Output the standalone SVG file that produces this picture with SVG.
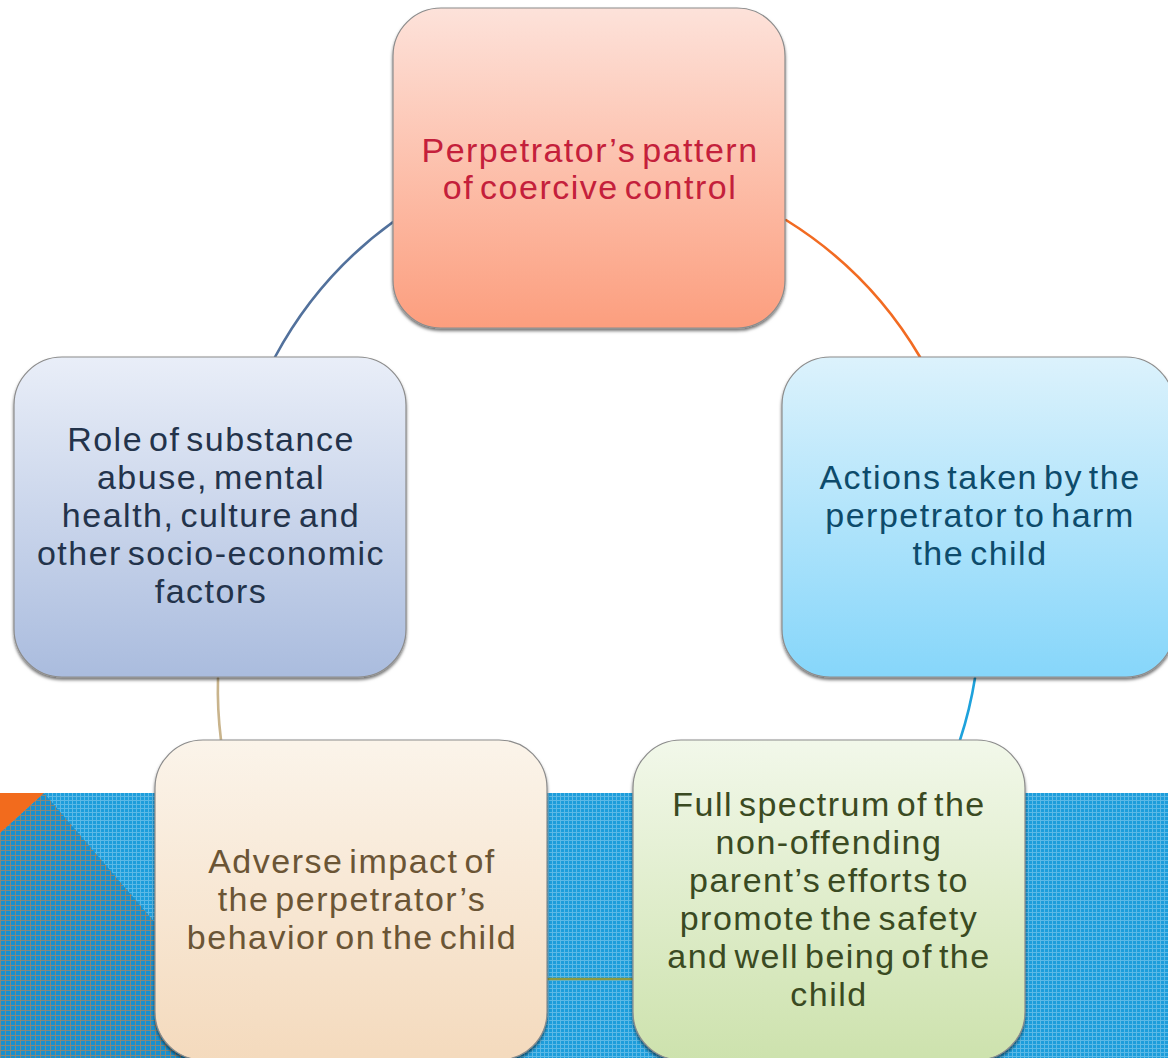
<svg xmlns="http://www.w3.org/2000/svg" width="1168" height="1058" viewBox="0 0 1168 1058">
<style>
.node-box{stroke:#8c8c8c;stroke-width:1.2;filter:url(#shadow)}
.lbl{font-family:"Liberation Sans",Arial,sans-serif;font-size:34px;text-anchor:middle;letter-spacing:1.5px;word-spacing:-5px}
.conn{fill:none;stroke-width:2.6;stroke-linecap:round}
</style>
<defs>
<filter id="shadow" x="-5%" y="-5%" width="110%" height="115%">
<feDropShadow dx="0" dy="2.5" stdDeviation="1.5" flood-color="#000" flood-opacity="0.55"/>
</filter>
<pattern id="lightGrid" width="4" height="4" patternUnits="userSpaceOnUse">
<rect width="4" height="4" fill="#1d9ddb"/>
<rect width="4" height="1" fill="#5cb9e6"/>
<rect width="1" height="4" fill="#5cb9e6"/>
</pattern>
<pattern id="darkGrid" width="5" height="5" patternUnits="userSpaceOnUse">
<rect width="5" height="5" fill="#1890cf"/>
<rect width="5" height="1" fill="#86877a"/>
<rect width="1" height="5" fill="#86877a"/>
</pattern>
<linearGradient id="gTop" x1="0" y1="0" x2="0" y2="1">
<stop offset="0" stop-color="#fde2da"/>
<stop offset="1" stop-color="#fc9e7e"/>
</linearGradient>
<linearGradient id="gRight" x1="0" y1="0" x2="0" y2="1">
<stop offset="0" stop-color="#dcf2fc"/>
<stop offset="1" stop-color="#86d6fa"/>
</linearGradient>
<linearGradient id="gLeft" x1="0" y1="0" x2="0" y2="1">
<stop offset="0" stop-color="#e9eef8"/>
<stop offset="1" stop-color="#aabcde"/>
</linearGradient>
<linearGradient id="gBL" x1="0" y1="0" x2="0" y2="1">
<stop offset="0" stop-color="#fbf4ea"/>
<stop offset="1" stop-color="#f4dabd"/>
</linearGradient>
<linearGradient id="gBR" x1="0" y1="0" x2="0" y2="1">
<stop offset="0" stop-color="#f2f8ea"/>
<stop offset="1" stop-color="#cde2ad"/>
</linearGradient>
</defs>

<g id="background">
<rect x="0" y="0" width="1168" height="1058" fill="#ffffff"/>
<rect x="0" y="793" width="1168" height="265" fill="url(#lightGrid)"/>
<polygon points="0,833 44,793 271,1058 0,1058" fill="url(#darkGrid)"/>
<polygon points="0,793 44,793 0,833" fill="#f26b1d"/>
</g>

<g id="connectors">
<path class="conn" d="M 393 222 A 400 400 0 0 0 275 357" stroke="#52719c"/>
<path class="conn" d="M 786 220 A 400 400 0 0 1 920 357" stroke="#f26b22"/>
<path class="conn" d="M 975 678 A 400 400 0 0 1 960 740" stroke="#1ea2dc"/>
<path class="conn" d="M 218 678 A 400 400 0 0 0 221 740" stroke="#c9b48c"/>
<path class="conn" d="M 548 979 L 633 979" stroke="#8c9a42"/>
</g>

<g id="node-top">
<rect class="node-box" x="393" y="8" width="392" height="320" rx="48" fill="url(#gTop)"/>
<text class="lbl" fill="#c4203b"><tspan x="590" y="162">Perpetrator’s pattern</tspan><tspan x="590" y="199">of coercive control</tspan></text>
</g>

<g id="node-right">
<rect class="node-box" x="782" y="357" width="392" height="320" rx="48" fill="url(#gRight)"/>
<text class="lbl" fill="#0d4b6b"><tspan x="980" y="489">Actions taken by the</tspan><tspan x="980" y="527">perpetrator to harm</tspan><tspan x="980" y="565">the child</tspan></text>
</g>

<g id="node-left">
<rect class="node-box" x="14" y="357" width="392" height="320" rx="48" fill="url(#gLeft)"/>
<text class="lbl" fill="#23334b"><tspan x="211" y="451">Role of substance</tspan><tspan x="211" y="489">abuse, mental</tspan><tspan x="211" y="527">health, culture and</tspan><tspan x="211" y="565">other socio-economic</tspan><tspan x="211" y="603">factors</tspan></text>
</g>

<g id="node-bottom-left">
<rect class="node-box" x="155" y="740" width="392" height="320" rx="48" fill="url(#gBL)"/>
<text class="lbl" fill="#6b5535"><tspan x="352" y="873">Adverse impact of</tspan><tspan x="352" y="911">the perpetrator’s</tspan><tspan x="352" y="949">behavior on the child</tspan></text>
</g>

<g id="node-bottom-right">
<rect class="node-box" x="633" y="740" width="392" height="320" rx="48" fill="url(#gBR)"/>
<text class="lbl" fill="#3a4a22"><tspan x="829" y="816">Full spectrum of the</tspan><tspan x="829" y="854">non-offending</tspan><tspan x="829" y="892">parent’s efforts to</tspan><tspan x="829" y="930">promote the safety</tspan><tspan x="829" y="968">and well being of the</tspan><tspan x="829" y="1006">child</tspan></text>
</g>
</svg>
